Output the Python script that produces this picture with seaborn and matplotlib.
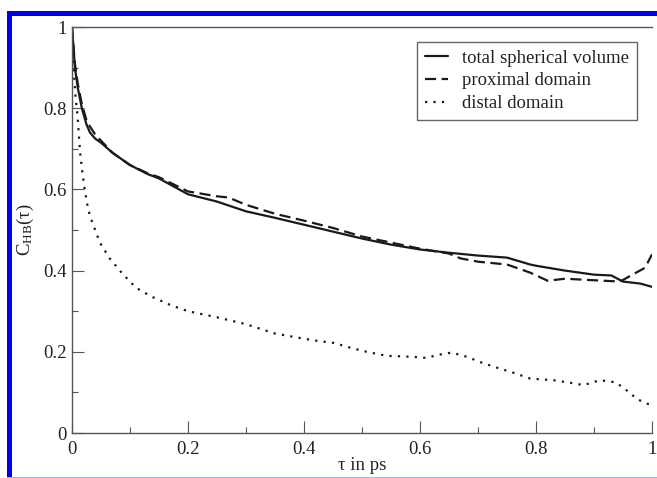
import matplotlib
matplotlib.use("Agg")
import matplotlib.pyplot as plt
import seaborn as sns
import pandas as pd
from matplotlib.patches import Rectangle
from matplotlib.ticker import MultipleLocator

# ---- data ----
total_t = [0, 0.005, 0.01, 0.017, 0.025, 0.031, 0.04, 0.05, 0.07, 0.1, 0.13, 0.15,
           0.2, 0.25, 0.3, 0.35, 0.4, 0.45, 0.5, 0.55, 0.6, 0.65, 0.7, 0.75, 0.79,
           0.8, 0.85, 0.9, 0.93, 0.95, 0.98, 1.0]
total_c = [1.0, 0.90, 0.85, 0.80, 0.76, 0.74, 0.725, 0.715, 0.69, 0.66, 0.638, 0.627,
           0.588, 0.57, 0.546, 0.53, 0.513, 0.496, 0.479, 0.464, 0.452, 0.444, 0.437,
           0.432, 0.415, 0.412, 0.40, 0.39, 0.388, 0.373, 0.368, 0.36]

prox_t = [0, 0.005, 0.01, 0.017, 0.025, 0.031, 0.04, 0.05, 0.07, 0.1, 0.13, 0.15,
          0.2, 0.25, 0.27, 0.3, 0.35, 0.4, 0.45, 0.5, 0.55, 0.6, 0.65, 0.67, 0.7,
          0.75, 0.79, 0.82, 0.85, 0.89, 0.945, 0.96, 0.988, 1.0]
prox_c = [1.0, 0.91, 0.86, 0.81, 0.77, 0.755, 0.735, 0.72, 0.69, 0.66, 0.64, 0.63,
          0.595, 0.583, 0.58, 0.562, 0.54, 0.523, 0.505, 0.484, 0.469, 0.454, 0.442,
          0.43, 0.422, 0.415, 0.395, 0.375, 0.38, 0.377, 0.373, 0.385, 0.407, 0.44]

dist_t = [0, 0.002, 0.004, 0.006, 0.01, 0.012, 0.014, 0.018, 0.022, 0.026, 0.031,
          0.04, 0.048, 0.065, 0.086, 0.11, 0.137, 0.17, 0.2, 0.25, 0.3, 0.35, 0.393,
          0.422, 0.451, 0.48, 0.508, 0.543, 0.583, 0.61, 0.64, 0.655, 0.68, 0.707,
          0.739, 0.762, 0.79, 0.83, 0.858, 0.882, 0.91, 0.937, 0.952, 0.975, 0.992, 1.0]
dist_c = [1.0, 0.94, 0.87, 0.83, 0.773, 0.73, 0.69, 0.64, 0.60, 0.565, 0.534,
          0.50, 0.469, 0.43, 0.394, 0.358, 0.336, 0.315, 0.30, 0.285, 0.268, 0.245,
          0.234, 0.227, 0.222, 0.21, 0.20, 0.19, 0.188, 0.185, 0.195, 0.198, 0.188,
          0.173, 0.158, 0.148, 0.134, 0.13, 0.124, 0.118, 0.13, 0.125, 0.11, 0.083,
          0.072, 0.07]

series_labels = ["total spherical volume", "proximal domain", "distal domain"]
x_ticks = [0, 0.2, 0.4, 0.6, 0.8, 1]
x_tick_labels = ["0", "0.2", "0.4", "0.6", "0.8", "1"]
y_ticks = [0, 0.2, 0.4, 0.6, 0.8, 1]
y_tick_labels = ["0", "0.2", "0.4", "0.6", "0.8", "1"]

# ---- style ----
sns.set_theme(style="white")
plt.rcParams["font.family"] = ["Liberation Serif", "DejaVu Serif"]
plt.rcParams["mathtext.fontset"] = "custom"
plt.rcParams["mathtext.rm"] = "Liberation Serif"
plt.rcParams["mathtext.it"] = "Liberation Serif:italic"

fig = plt.figure(figsize=(6.57, 4.78), dpi=100)
ax = fig.add_axes([72 / 657, 45 / 478, 580 / 657, 406 / 478])

ink = "#1a1a1a"
df_total = pd.DataFrame({"t": total_t, "c": total_c})
df_prox = pd.DataFrame({"t": prox_t, "c": prox_c})
df_dist = pd.DataFrame({"t": dist_t, "c": dist_c})

sns.lineplot(data=df_total, x="t", y="c", ax=ax, color=ink, lw=1.6,
             linestyle="-", label=series_labels[0], estimator=None, sort=False)
sns.lineplot(data=df_prox, x="t", y="c", ax=ax, color=ink, lw=1.6,
             linestyle=(0, (5, 2.5)), label=series_labels[1], estimator=None, sort=False)
sns.lineplot(data=df_dist, x="t", y="c", ax=ax, color=ink, lw=1.6,
             linestyle=(0, (1, 2.8)), label=series_labels[2], estimator=None, sort=False)

ax.set_xlim(0, 1)
ax.set_ylim(0, 1)
ax.set_xticks(x_ticks)
ax.set_xticklabels(x_tick_labels)
ax.set_yticks(y_ticks)
ax.set_yticklabels(y_tick_labels)
ax.xaxis.set_minor_locator(MultipleLocator(0.1))
ax.yaxis.set_minor_locator(MultipleLocator(0.1))
ax.tick_params(which="both", bottom=True, left=True, top=False, right=False)
ax.tick_params(which="major", direction="in", length=8.5, width=0.8,
               color="#555555", labelsize=13.5, labelcolor="#222222")
ax.tick_params(which="minor", direction="in", length=4.3, width=0.8, color="#555555")
ax.tick_params(axis="x", which="major", pad=6)
ax.tick_params(axis="y", which="major", pad=4)

for side in ["left", "bottom", "top"]:
    ax.spines[side].set_color("#555555")
    ax.spines[side].set_linewidth(1.0)
ax.spines["right"].set_visible(False)

ax.set_xlabel("τ in ps", fontsize=13.5, color="#222222", labelpad=-1)
ax.set_ylabel(r"C$_{\mathrm{HB}}$(τ)", fontsize=13.5, color="#222222", labelpad=5)

leg = ax.legend(loc="upper right", bbox_to_anchor=(0.974, 0.963), borderaxespad=0,
                fancybox=False, framealpha=1, edgecolor="#666666", fontsize=13.5,
                handlelength=1.25, handletextpad=0.75, labelspacing=0.3,
                borderpad=0.4)
leg.get_frame().set_linewidth(1.0)
for t in leg.get_texts():
    t.set_color("#222222")

# blue frame around the figure
blue = "#0000ee"
fig.patches.append(Rectangle((7 / 657, (478 - 16) / 478), 1 - 7 / 657, 5 / 478,
                             transform=fig.transFigure, facecolor=blue, edgecolor="none"))
fig.patches.append(Rectangle((7 / 657, 1.5 / 478), 5 / 657, (478 - 12.5) / 478,
                             transform=fig.transFigure, facecolor=blue, edgecolor="none"))
fig.patches.append(Rectangle((7 / 657, 0), 1 - 7 / 657, 1.5 / 478,
                             transform=fig.transFigure, facecolor="#aab0ff", edgecolor="none"))

fig.savefig("out.png", dpi=100)
